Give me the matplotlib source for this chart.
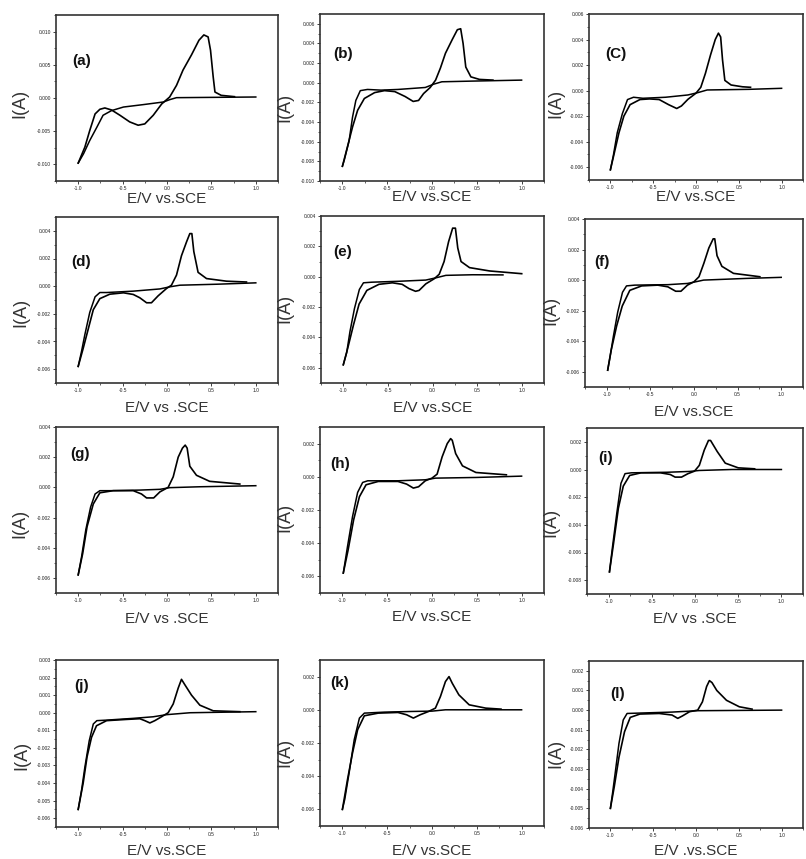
import numpy as np
import matplotlib
matplotlib.use("Agg")
import matplotlib.pyplot as plt
from matplotlib.ticker import MultipleLocator, FormatStrFormatter

plt.rcParams['font.family'] = ['Liberation Sans', 'DejaVu Sans']

# ---- data: potential (V vs SCE) and current (A) ----
# each panel: "base" branch (flat return sweep) and "peak" branch (with redox peaks)

a_base_e = [1.0, 0.107, 0.03, -0.04, -0.27, -0.49, -0.625, -0.72, -0.79, -0.87, -0.94, -1.0]
a_base_i = [0.00015, 0.00005, -0.00025, -0.0006, -0.001, -0.00136, -0.0019, -0.0026, -0.0044, -0.0064, -0.0084, -0.0098]
a_peak_e = [-1.0, -0.925, -0.87, -0.81, -0.756, -0.70, -0.625, -0.53, -0.42, -0.325, -0.25, -0.155, -0.06, 0.03,
            0.107, 0.18, 0.276, 0.36, 0.415, 0.463, 0.49, 0.52, 0.54, 0.61, 0.76]
a_peak_i = [-0.0098, -0.0074, -0.0049, -0.0024, -0.0017, -0.0015, -0.0018, -0.0026, -0.0036, -0.0041, -0.0039, -0.0026,
            -0.0009, 0.00015, 0.0019, 0.0042, 0.0065, 0.0087, 0.0095, 0.0092, 0.0072, 0.0032, 0.0009, 0.0004, 0.0002]

b_base_e = [1.0, 0.45, 0.11, 0.02, -0.075, -0.38, -0.57, -0.72, -0.8, -0.85, -0.887, -0.925, -0.98, -1.0]
b_base_i = [0.00027, 0.00017, 0.0001, -0.00014, -0.00048, -0.00068, -0.00075, -0.00068, -0.0008, -0.0018, -0.0035, -0.0059, -0.0079, -0.0085]
b_peak_e = [-1.0, -0.943, -0.887, -0.83, -0.755, -0.64, -0.53, -0.415, -0.3, -0.21, -0.15, -0.094, -0.02, 0.04,
            0.094, 0.15, 0.226, 0.283, 0.32, 0.347, 0.377, 0.434, 0.53, 0.68]
b_peak_i = [-0.0085, -0.0065, -0.0045, -0.0028, -0.0016, -0.001, -0.0008, -0.0009, -0.0014, -0.0019, -0.0018, -0.0011,
            -0.00048, 0.00027, 0.0015, 0.003, 0.0044, 0.0054, 0.0055, 0.004, 0.0016, 0.0006, 0.00034, 0.00027]

c_base_e = [1.0, 0.62, 0.13, 0.02, -0.094, -0.356, -0.62, -0.73, -0.8, -0.86, -0.92, -0.966, -1.0]
c_base_i = [0.00018, 0.0001, 0.00005, -0.00016, -0.00034, -0.00052, -0.0006, -0.00052, -0.0007, -0.0018, -0.0033, -0.0051, -0.0062]
c_peak_e = [-1.0, -0.955, -0.9, -0.843, -0.77, -0.655, -0.543, -0.43, -0.32, -0.225, -0.17, -0.094, 0.0, 0.056,
            0.11, 0.17, 0.225, 0.262, 0.288, 0.31, 0.337, 0.41, 0.543, 0.637]
c_peak_i = [-0.0062, -0.0049, -0.0033, -0.002, -0.0011, -0.0007, -0.00065, -0.0007, -0.0011, -0.0014, -0.0012, -0.00068,
            -0.0002, 0.00026, 0.00135, 0.0028, 0.004, 0.0045, 0.0042, 0.0024, 0.0008, 0.00044, 0.0003, 0.00026]

d_base_e = [1.0, 0.56, 0.145, 0.03, -0.08, -0.38, -0.68, -0.756, -0.81, -0.87, -0.925, -0.962, -1.0]
d_base_i = [0.00024, 0.00014, 0.00007, -0.00005, -0.0002, -0.00036, -0.00046, -0.00046, -0.00077, -0.0019, -0.0035, -0.0047, -0.0058]
d_peak_e = [-1.0, -0.944, -0.887, -0.83, -0.756, -0.644, -0.49, -0.38, -0.306, -0.23, -0.175, -0.1, -0.006, 0.05,
            0.107, 0.163, 0.22, 0.257, 0.28, 0.302, 0.35, 0.445, 0.67, 0.895]
d_peak_i = [-0.0058, -0.0045, -0.0031, -0.0017, -0.0009, -0.00058, -0.00048, -0.0006, -0.00084, -0.0012, -0.0012, -0.0007,
            -0.00017, 0.00007, 0.0008, 0.0022, 0.0032, 0.0038, 0.0038, 0.0025, 0.001, 0.00055, 0.00036, 0.0003]

e_base_e = [0.79, 0.45, 0.15, 0.04, -0.075, -0.38, -0.68, -0.774, -0.82, -0.875, -0.925, -0.962, -1.0]
e_base_i = [0.00012, 0.00013, 0.00009, -0.00007, -0.00022, -0.0003, -0.00036, -0.0004, -0.00084, -0.0021, -0.0036, -0.005, -0.0058]
e_peak_e = [-1.0, -0.95, -0.887, -0.823, -0.736, -0.6, -0.45, -0.34, -0.264, -0.19, -0.15, -0.075, 0.02, 0.075,
            0.13, 0.18, 0.226, 0.257, 0.283, 0.32, 0.415, 0.64, 1.0]
e_peak_i = [-0.0058, -0.0047, -0.0032, -0.0018, -0.0009, -0.0005, -0.0004, -0.0005, -0.00078, -0.00096, -0.0009, -0.00047,
            -0.00013, 0.00016, 0.001, 0.0023, 0.0032, 0.0032, 0.0019, 0.001, 0.0006, 0.00038, 0.0002]

f_base_e = [1.0, 0.6, 0.11, 0.02, -0.075, -0.3, -0.68, -0.774, -0.82, -0.875, -0.925, -0.962, -0.99]
f_base_i = [0.00018, 0.00011, 0.0, -0.00011, -0.00022, -0.0003, -0.00033, -0.00038, -0.0008, -0.0021, -0.0037, -0.005, -0.0059]
f_peak_e = [-0.99, -0.95, -0.887, -0.823, -0.736, -0.6, -0.415, -0.3, -0.21, -0.15, -0.075, 0.0, 0.057, 0.113,
            0.17, 0.22, 0.238, 0.264, 0.32, 0.453, 0.755]
f_peak_i = [-0.0059, -0.0046, -0.003, -0.0017, -0.00067, -0.00038, -0.00033, -0.00044, -0.00073, -0.00073, -0.00033,
            -0.00011, 0.00022, 0.0011, 0.0021, 0.0027, 0.0027, 0.0016, 0.0009, 0.00044, 0.00022]

g_base_e = [1.0, 0.37, 0.03, -0.08, -0.306, -0.64, -0.756, -0.81, -0.86, -0.914, -0.962, -1.0]
g_base_i = [0.00011, 0.00004, -0.00002, -0.00013, -0.00018, -0.00022, -0.00022, -0.00044, -0.0013, -0.0028, -0.0046, -0.0058]
g_peak_e = [-1.0, -0.95, -0.9, -0.83, -0.756, -0.606, -0.38, -0.287, -0.23, -0.15, -0.08, 0.013, 0.07, 0.126,
            0.174, 0.205, 0.227, 0.257, 0.332, 0.48, 0.82]
g_peak_i = [-0.0058, -0.0044, -0.0026, -0.0011, -0.00036, -0.00022, -0.00022, -0.00044, -0.0007, -0.0007, -0.0003,
            0.0, 0.0007, 0.002, 0.0026, 0.0028, 0.0026, 0.0014, 0.0008, 0.0004, 0.00022]

h_base_e = [1.0, 0.49, 0.04, -0.075, -0.38, -0.717, -0.774, -0.83, -0.887, -0.943, -0.99]
h_base_i = [0.00004, -0.00004, -0.00008, -0.00018, -0.00024, -0.00024, -0.00034, -0.00094, -0.0024, -0.0042, -0.0058]
h_peak_e = [-0.99, -0.936, -0.875, -0.81, -0.736, -0.6, -0.38, -0.283, -0.208, -0.15, -0.075, 0.0, 0.057, 0.113,
            0.17, 0.208, 0.226, 0.264, 0.34, 0.49, 0.83]
h_peak_i = [-0.0058, -0.0044, -0.0026, -0.0012, -0.00048, -0.00028, -0.00028, -0.00044, -0.00068, -0.0006, -0.00024,
            -0.00008, 0.00016, 0.0012, 0.002, 0.0023, 0.0022, 0.0014, 0.00066, 0.00026, 0.00012]

i_base_e = [1.0, 0.426, 0.05, -0.062, -0.325, -0.737, -0.81, -0.857, -0.906, -0.955, -0.99]
i_base_i = [0.0, 0.0, -0.00007, -0.00014, -0.0002, -0.00024, -0.0003, -0.001, -0.0032, -0.0056, -0.0074]
i_peak_e = [-0.99, -0.944, -0.887, -0.83, -0.756, -0.625, -0.4, -0.287, -0.23, -0.156, -0.081, -0.006, 0.05, 0.107,
            0.156, 0.18, 0.257, 0.35, 0.5, 0.69]
i_peak_i = [-0.0074, -0.0054, -0.0028, -0.0012, -0.00043, -0.00024, -0.00024, -0.00036, -0.00055, -0.00055, -0.0003,
            -0.00012, 0.0003, 0.0014, 0.0021, 0.0021, 0.0013, 0.00046, 0.00012, 0.00005]

j_base_e = [1.0, 0.26, -0.006, -0.156, -0.38, -0.68, -0.79, -0.83, -0.876, -0.925, -0.962, -1.0]
j_base_i = [0.00006, 0.0, -0.00011, -0.00023, -0.00032, -0.00042, -0.00045, -0.00064, -0.0016, -0.0031, -0.0044, -0.0055]
j_peak_e = [-1.0, -0.944, -0.9, -0.85, -0.794, -0.68, -0.456, -0.306, -0.25, -0.193, -0.137, -0.062, 0.013, 0.07,
            0.126, 0.163, 0.2, 0.276, 0.37, 0.52, 0.82]
j_peak_i = [-0.0055, -0.004, -0.0025, -0.0014, -0.00074, -0.00045, -0.00038, -0.00034, -0.00045, -0.00058, -0.00045,
            -0.00023, 0.0, 0.0005, 0.0014, 0.0019, 0.0016, 0.001, 0.00043, 0.00011, 0.00006]

k_base_e = [1.0, 0.15, 0.0, -0.226, -0.53, -0.755, -0.81, -0.868, -0.925, -0.974, -1.0]
k_base_i = [0.0, 0.0, -0.00008, -0.0001, -0.00014, -0.0002, -0.0005, -0.0018, -0.0038, -0.0054, -0.006]
k_peak_e = [-1.0, -0.943, -0.887, -0.83, -0.755, -0.6, -0.38, -0.283, -0.208, -0.132, -0.038, 0.038, 0.094, 0.15,
            0.19, 0.226, 0.3, 0.415, 0.6, 0.77]
k_peak_i = [-0.006, -0.0042, -0.0026, -0.0012, -0.00036, -0.0002, -0.00016, -0.0003, -0.0005, -0.0003, -0.0001,
            0.0001, 0.0008, 0.0017, 0.002, 0.0016, 0.0009, 0.0003, 0.0001, 0.00004]

l_base_e = [1.0, 0.02, -0.28, -0.58, -0.805, -0.85, -0.9, -0.944, -0.974, -1.0]
l_base_i = [0.0, -0.00003, -0.0001, -0.00014, -0.00017, -0.0005, -0.0017, -0.0032, -0.0042, -0.005]
l_peak_e = [-1.0, -0.955, -0.9, -0.835, -0.768, -0.655, -0.43, -0.28, -0.213, -0.16, -0.075, 0.02, 0.075, 0.124,
            0.157, 0.187, 0.243, 0.356, 0.506, 0.655]
l_peak_i = [-0.005, -0.0039, -0.0024, -0.0011, -0.00037, -0.0002, -0.00017, -0.00025, -0.00042, -0.0003, -0.00008,
            0.0, 0.00042, 0.0012, 0.0015, 0.0014, 0.001, 0.0005, 0.00017, 0.00005]

panel_tags = ["(a)", "(b)", "(C)", "(d)", "(e)", "(f)", "(g)", "(h)", "(i)", "(j)", "(k)", "(l)"]
x_titles = ["E/V vs.SCE", "E/V vs.SCE", "E/V vs.SCE", "E/V vs .SCE", "E/V vs.SCE", "E/V vs.SCE",
            "E/V vs .SCE", "E/V vs.SCE", "E/V vs .SCE", "E/V vs.SCE", "E/V vs.SCE", "E/V .vs.SCE"]
y_limits = [(-0.0125, 0.0125), (-0.010, 0.007), (-0.007, 0.006), (-0.007, 0.005), (-0.007, 0.004), (-0.007, 0.004),
            (-0.007, 0.004), (-0.007, 0.003), (-0.009, 0.003), (-0.0065, 0.003), (-0.007, 0.003), (-0.006, 0.0025)]
y_steps = [0.005, 0.002, 0.002, 0.002, 0.002, 0.002, 0.002, 0.002, 0.002, 0.001, 0.002, 0.001]

curves = [
    (a_base_e, a_base_i, a_peak_e, a_peak_i), (b_base_e, b_base_i, b_peak_e, b_peak_i),
    (c_base_e, c_base_i, c_peak_e, c_peak_i), (d_base_e, d_base_i, d_peak_e, d_peak_i),
    (e_base_e, e_base_i, e_peak_e, e_peak_i), (f_base_e, f_base_i, f_peak_e, f_peak_i),
    (g_base_e, g_base_i, g_peak_e, g_peak_i), (h_base_e, h_base_i, h_peak_e, h_peak_i),
    (i_base_e, i_base_i, i_peak_e, i_peak_i), (j_base_e, j_base_i, j_peak_e, j_peak_i),
    (k_base_e, k_base_i, k_peak_e, k_peak_i), (l_base_e, l_base_i, l_peak_e, l_peak_i),
]

# ---- layout (pixels: left, top, right, bottom) ----
W, H = 806, 859
boxes = [(56, 15, 278, 181), (320, 14, 544, 181), (589, 14, 803, 180),
         (56, 217, 278, 383), (321, 216, 544, 383), (585, 219, 803, 387),
         (56, 427, 278, 593), (320, 427, 544, 593), (587, 428, 803, 594),
         (56, 660, 278, 827), (320, 660, 544, 826), (589, 661, 803, 828)]
tag_pos = [(0.072, 0.72), (0.06, 0.76), (0.076, 0.757), (0.07, 0.727), (0.055, 0.786), (0.044, 0.742),
           (0.063, 0.835), (0.045, 0.78), (0.051, 0.82), (0.081, 0.844), (0.045, 0.86), (0.098, 0.80)]
xlab_y = [199, 197, 197, 408, 408, 412, 619, 617, 619, 851, 851, 851]
ylab_pos = [(20, 103), (285, 107), (556, 103), (21, 312), (285, 308), (551, 310),
            (20, 523), (285, 517), (551, 522), (22, 755), (285, 752), (556, 753)]

ink = "#222222"
fig = plt.figure(figsize=(W / 100, H / 100), dpi=100)

for n in range(12):
    l, t, r, b = boxes[n]
    ax = fig.add_axes([l / W, 1 - b / H, (r - l) / W, (b - t) / H])
    be, bi, pe, pi = curves[n]
    ax.plot(be, bi, color="black", lw=1.1)
    ax.plot(pe, pi, color="black", lw=1.2)
    ax.set_xlim(-1.25, 1.25)
    ax.set_ylim(*y_limits[n])
    ax.xaxis.set_major_locator(MultipleLocator(0.5))
    ax.xaxis.set_minor_locator(MultipleLocator(0.25))
    ax.yaxis.set_major_locator(MultipleLocator(y_steps[n]))
    ax.yaxis.set_minor_locator(MultipleLocator(y_steps[n] / 2))
    ax.xaxis.set_major_formatter(FormatStrFormatter("%.1f"))
    ax.yaxis.set_major_formatter(FormatStrFormatter("%.3f"))
    ax.tick_params(which="major", direction="out", length=2, width=0.6, labelsize=3.5,
                   colors=ink, pad=1.5)
    ax.tick_params(which="minor", direction="out", length=1.2, width=0.5, colors=ink)
    for sp in ax.spines.values():
        sp.set_linewidth(1.2)
        sp.set_color("#333333")
    ax.text(tag_pos[n][0], tag_pos[n][1], panel_tags[n], transform=ax.transAxes,
            fontsize=11, fontweight="bold", color="#111111", ha="left", va="center")
    fig.text((l + r) / 2 / W, 1 - xlab_y[n] / H, x_titles[n], fontsize=11,
             color="#333333", ha="center", va="center")
    fig.text(ylab_pos[n][0] / W, 1 - ylab_pos[n][1] / H, "I(A)", fontsize=13,
             color="#333333", rotation=90, ha="center", va="center")

fig.savefig("out.png", dpi=100, facecolor="white")
